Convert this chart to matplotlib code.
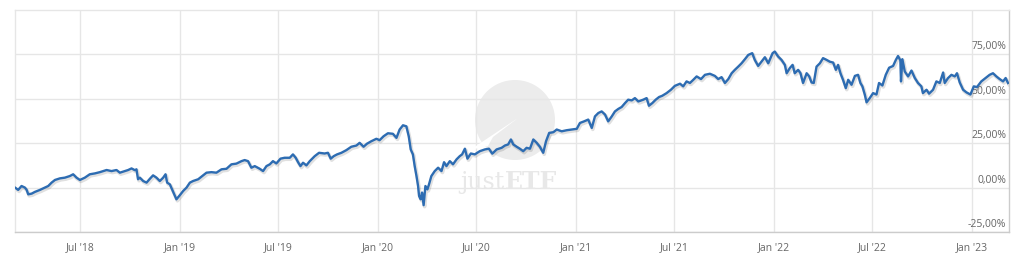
import numpy as np
import pandas as pd
import matplotlib
matplotlib.use("Agg")
import matplotlib.pyplot as plt
import matplotlib.transforms as mtransforms
from matplotlib.patches import Circle, Polygon

# --- DATA (decimal year, performance in %) ---
years = [
    2018.167, 2018.183, 2018.200, 2018.217, 2018.226, 2018.234, 2018.251, 2018.268, 2018.293, 2018.318,
    2018.335, 2018.352, 2018.369, 2018.394, 2018.419, 2018.444, 2018.461, 2018.478, 2018.495, 2018.520,
    2018.545, 2018.571, 2018.596, 2018.630, 2018.655, 2018.680, 2018.697, 2018.722, 2018.739, 2018.756,
    2018.773, 2018.781, 2018.789, 2018.798, 2018.815, 2018.832, 2018.849, 2018.865, 2018.882, 2018.899,
    2018.916, 2018.928, 2018.936, 2018.950, 2018.961, 2018.975, 2018.983, 2019.000, 2019.017, 2019.034,
    2019.051, 2019.067, 2019.093, 2019.110, 2019.135, 2019.160, 2019.185, 2019.211, 2019.236, 2019.261,
    2019.286, 2019.312, 2019.328, 2019.345, 2019.362, 2019.379, 2019.404, 2019.421, 2019.438, 2019.455,
    2019.471, 2019.488, 2019.509, 2019.530, 2019.556, 2019.572, 2019.586, 2019.598, 2019.610, 2019.623,
    2019.640, 2019.657, 2019.682, 2019.704, 2019.732, 2019.749, 2019.763, 2019.778, 2019.795, 2019.817,
    2019.842, 2019.867, 2019.893, 2019.909, 2019.929, 2019.946, 2019.968, 2019.994, 2020.010, 2020.030,
    2020.052, 2020.077, 2020.095, 2020.111, 2020.128, 2020.145, 2020.157, 2020.167, 2020.178, 2020.187,
    2020.196, 2020.204, 2020.209, 2020.217, 2020.224, 2020.232, 2020.241, 2020.251, 2020.259, 2020.271,
    2020.288, 2020.305, 2020.322, 2020.335, 2020.347, 2020.364, 2020.380, 2020.398, 2020.414, 2020.426,
    2020.440, 2020.453, 2020.470, 2020.490, 2020.515, 2020.541, 2020.561, 2020.578, 2020.600, 2020.625,
    2020.642, 2020.658, 2020.672, 2020.684, 2020.701, 2020.717, 2020.734, 2020.751, 2020.768, 2020.785,
    2020.802, 2020.818, 2020.835, 2020.849, 2020.865, 2020.886, 2020.903, 2020.928, 2020.953, 2020.979,
    2021.004, 2021.020, 2021.041, 2021.062, 2021.080, 2021.096, 2021.113, 2021.130, 2021.147, 2021.163,
    2021.181, 2021.197, 2021.214, 2021.231, 2021.248, 2021.264, 2021.282, 2021.298, 2021.315, 2021.340,
    2021.357, 2021.369, 2021.386, 2021.403, 2021.420, 2021.436, 2021.458, 2021.480, 2021.500, 2021.526,
    2021.542, 2021.559, 2021.576, 2021.593, 2021.610, 2021.632, 2021.652, 2021.677, 2021.702, 2021.719,
    2021.736, 2021.753, 2021.770, 2021.787, 2021.803, 2021.820, 2021.837, 2021.854, 2021.871, 2021.891,
    2021.904, 2021.921, 2021.938, 2021.955, 2021.972, 2021.994, 2022.005, 2022.022, 2022.039, 2022.056,
    2022.065, 2022.081, 2022.095, 2022.106, 2022.123, 2022.135, 2022.148, 2022.166, 2022.179, 2022.191,
    2022.202, 2022.216, 2022.233, 2022.249, 2022.267, 2022.283, 2022.300, 2022.314, 2022.325, 2022.337,
    2022.350, 2022.364, 2022.376, 2022.393, 2022.410, 2022.426, 2022.438, 2022.448, 2022.460, 2022.469,
    2022.485, 2022.502, 2022.519, 2022.532, 2022.549, 2022.566, 2022.583, 2022.603, 2022.617, 2022.628,
    2022.640, 2022.643, 2022.650, 2022.662, 2022.679, 2022.696, 2022.713, 2022.729, 2022.746, 2022.754,
    2022.772, 2022.785, 2022.805, 2022.822, 2022.839, 2022.856, 2022.864, 2022.881, 2022.898, 2022.915,
    2022.926, 2022.940, 2022.957, 2022.974, 2022.994, 2023.011, 2023.027, 2023.049, 2023.071, 2023.091,
    2023.108, 2023.125, 2023.142, 2023.159, 2023.172, 2023.184,
]
perf = [
    0.0, -1.3, 0.9, 0.0, -1.3, -3.8, -3.4, -2.4, -1.3, 0.0,
    0.9, 2.8, 4.3, 5.2, 5.6, 6.5, 7.5, 5.6, 4.3, 5.6,
    7.5, 8.0, 8.7, 9.9, 9.3, 9.9, 8.4, 9.3, 9.9, 10.8,
    9.8, 10.3, 4.7, 5.6, 3.7, 2.8, 5.0, 6.9, 5.6, 3.7,
    5.6, 7.5, 2.8, 1.8, -1.0, -4.7, -6.6, -4.3, -1.9, 0.0,
    2.8, 3.7, 4.7, 6.2, 8.4, 8.7, 8.4, 10.3, 10.6, 13.1,
    13.5, 14.9, 15.5, 14.9, 11.2, 12.1, 10.6, 9.3, 12.1, 13.1,
    14.9, 13.6, 16.3, 16.8, 16.8, 18.7, 16.8, 14.3, 12.1, 14.0,
    12.5, 14.9, 17.7, 19.6, 19.2, 19.6, 16.3, 17.7, 18.7, 19.6,
    21.1, 23.0, 23.7, 25.2, 23.0, 24.7, 26.1, 27.5, 26.7, 28.9,
    30.6, 30.3, 28.0, 32.7, 35.1, 34.5, 28.9, 21.5, 18.7, 12.1,
    6.5, 0.9, -4.7, -6.6, -2.8, -9.9, 0.9, -1.0, 1.8, 6.5,
    9.3, 11.2, 9.3, 14.3, 12.1, 14.9, 13.1, 15.9, 17.7, 18.7,
    21.9, 16.3, 19.2, 18.7, 20.5, 21.5, 21.9, 19.1, 21.5, 22.4,
    23.7, 24.3, 27.1, 24.3, 23.0, 21.9, 20.5, 22.4, 21.9, 27.1,
    25.2, 23.0, 19.6, 26.1, 30.8, 31.2, 32.7, 31.7, 32.3, 32.7,
    33.1, 36.4, 37.3, 38.3, 33.6, 40.1, 42.0, 42.9, 41.1, 37.3,
    40.1, 42.9, 44.3, 45.4, 47.6, 49.5, 49.1, 50.4, 48.5, 49.5,
    50.4, 46.1, 47.6, 49.5, 51.0, 51.7, 53.2, 55.1, 57.3, 58.5,
    57.0, 59.8, 58.9, 60.7, 62.6, 61.1, 63.5, 64.1, 62.9, 61.1,
    62.2, 58.9, 61.1, 64.4, 66.3, 68.1, 70.0, 72.3, 74.7, 75.7,
    71.9, 68.5, 70.9, 73.4, 70.0, 75.7, 76.6, 73.8, 71.9, 69.1,
    64.4, 67.3, 69.1, 64.4, 66.3, 64.4, 58.9, 64.4, 62.6, 59.2,
    58.9, 68.1, 70.0, 72.9, 71.9, 70.9, 70.4, 66.3, 69.1, 64.4,
    60.7, 56.0, 60.7, 57.9, 62.9, 63.5, 58.9, 57.0, 52.4, 48.0,
    50.4, 53.2, 52.4, 58.9, 57.5, 63.5, 67.5, 68.5, 71.9, 74.1,
    71.6, 59.8, 72.3, 65.4, 62.6, 65.9, 61.7, 58.9, 57.0, 53.2,
    55.1, 52.9, 55.1, 59.8, 58.9, 64.8, 58.9, 61.7, 63.5, 62.6,
    64.4, 59.2, 55.1, 53.6, 52.4, 57.0, 56.6, 59.8, 61.7, 63.5,
    64.4, 62.6, 61.1, 59.8, 61.7, 58.9,
]
x_start, x_end = 2018.167, 2023.189
tick_dates = ["2018-07-01", "2019-01-01", "2019-07-01", "2020-01-01", "2020-07-01",
              "2021-01-01", "2021-07-01", "2022-01-01", "2022-07-01", "2023-01-01"]
tick_labels = ["Jul '18", "Jan '19", "Jul '19", "Jan '20", "Jul '20",
               "Jan '21", "Jul '21", "Jan '22", "Jul '22", "Jan '23"]
y_ticks = [-25, 0, 25, 50, 75]
y_labels = ["-25,00%", "0,00%", "25,00%", "50,00%", "75,00%"]


def to_date(y):
    yr = int(y)
    start = pd.Timestamp(yr, 1, 1)
    days = (pd.Timestamp(yr + 1, 1, 1) - start).days
    return start + pd.Timedelta(days=(y - yr) * days)


dates = [to_date(y) for y in years]

plt.rcParams['font.family'] = ['Open Sans', 'DejaVu Sans']

fig = plt.figure(figsize=(10.21, 2.58), dpi=100)
fig.patch.set_facecolor('white')
ax = fig.add_axes([15 / 1021, 26 / 258, 994 / 1021, 222 / 258])
ax.set_facecolor('white')

ax.set_xlim(to_date(x_start), to_date(x_end))
ax.set_ylim(-25, 100)

# grid
ax.set_xticks([pd.Timestamp(d) for d in tick_dates])
ax.set_xticklabels(tick_labels, fontsize=7.5, color='#666666')
ax.set_yticks(y_ticks)
ax.tick_params(axis='both', length=0, pad=7)
ax.tick_params(axis='y', left=False, labelleft=False)
ax.grid(True, color='#e6e6e6', linewidth=1.0)
ax.set_axisbelow(True)

for side in ['left', 'top']:
    ax.spines[side].set_color('#e6e6e6')
for side in ['right', 'bottom']:
    ax.spines[side].set_color('#cccccc')
for sp in ax.spines.values():
    sp.set_linewidth(1.0)

# y labels inside the plot, on the right, above the grid lines
for v, lab in zip(y_ticks, y_labels):
    ax.annotate(lab, xy=(1.0, v), xycoords=('axes fraction', 'data'),
                xytext=(-2, 1.5), textcoords='offset points',
                ha='right', va='bottom', fontsize=7.5, color='#666666')

# watermark (positions in inches from the figure's lower-left corner)
logo = Circle((5.15, 1.38), 0.40, transform=fig.dpi_scale_trans,
              facecolor='#ececec', edgecolor='none', zorder=0.5)
ax.add_artist(logo)
plane = Polygon([(4.70, 1.08), (5.18, 1.40), (4.93, 1.21), (4.88, 1.12)],
                closed=True, transform=fig.dpi_scale_trans,
                facecolor='white', edgecolor='none', zorder=0.6)
ax.add_artist(plane)
ax.text(5.05, 0.76, 'just', transform=fig.dpi_scale_trans,
        ha='right', va='center', fontsize=17, family='DejaVu Serif',
        color='#e8e8e8', zorder=0.7)
ax.text(5.05, 0.76, 'ETF', transform=fig.dpi_scale_trans,
        ha='left', va='center', fontsize=17, family='DejaVu Serif',
        fontweight='bold', color='#e8e8e8', zorder=0.7)

# shadow + line
shadow = mtransforms.offset_copy(ax.transData, fig=fig, x=1, y=-1.5, units='dots')
ax.plot(dates, perf, color='black', alpha=0.12, linewidth=2.6,
        transform=shadow, solid_joinstyle='round', zorder=2)
ax.plot(dates, perf, color='#2d6cb2', linewidth=1.7,
        solid_joinstyle='round', zorder=3)

fig.savefig('out.png', dpi=100, facecolor='white')
